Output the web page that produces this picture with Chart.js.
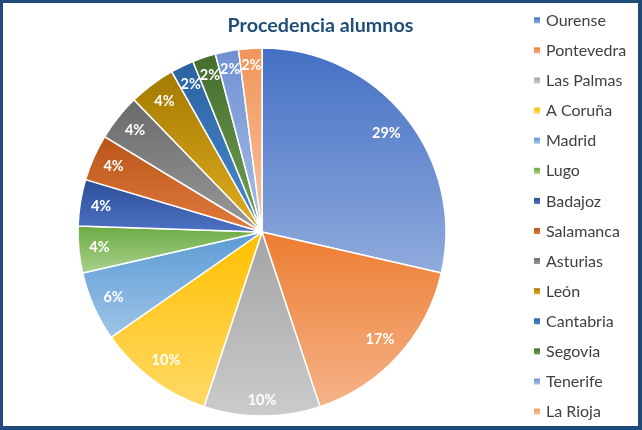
<!DOCTYPE html>
<html>
<head>
<meta charset="utf-8">
<script src="https://cdn.jsdelivr.net/npm/chart.js@4"></script>
<style>
  html, body { margin: 0; padding: 0; background: #ffffff; }
  #frame {
    box-sizing: border-box;
    width: 642px; height: 430px;
    border-style: solid;
    border-color: #1f4b7a;
    border-width: 3px 4px 4px 3px;
    background: #ffffff;
  }
  #wrap { position: relative; width: 635px; height: 423px; }
</style>
</head>
<body>
<div id="frame"><div id="wrap"><canvas id="c"></canvas></div></div>
<script>
const chartTitle = 'Procedencia alumnos';
const categories = ['Ourense','Pontevedra','Las Palmas','A Coruña','Madrid','Lugo','Badajoz','Salamanca','Asturias','León','Cantabria','Segovia','Tenerife','La Rioja'];
// number of students per province
const students = [14, 8, 5, 5, 3, 2, 2, 2, 2, 2, 1, 1, 1, 1];
// percentage labels as printed on the slices
const percentLabels = ['29%','17%','10%','10%','6%','4%','4%','4%','4%','4%','2%','2%','2%','2%'];
const topColors = ['#4470c4','#ed7d31','#a3a3a3','#ffc000','#5b9bd5','#6cab42','#2c4f98','#b9551a','#6a6a6a','#a37a00','#2a62a0','#456c2e','#6f90d2','#f0955a'];
const bottomColors = ['#90abdd','#f5b389','#cbcbcb','#ffd966','#9fc4e7','#a9d18e','#4e72c4','#e27c3c','#9a9a9a','#e2ae22','#4b8bd0','#72a252','#a8bfe9','#f8c4a0'];

const FONT = 'Lato, "Open Sans", sans-serif';
Chart.defaults.font.family = FONT;

function arcYRange(arc) {
  const s = arc.startAngle, e = arc.endAngle, r = arc.outerRadius;
  const ys = [arc.y, arc.y + r * Math.sin(s), arc.y + r * Math.sin(e)];
  [-Math.PI / 2, Math.PI / 2, 3 * Math.PI / 2].forEach(a => {
    if (a >= s && a <= e) ys.push(arc.y + r * Math.sin(a));
  });
  return [Math.min.apply(null, ys), Math.max.apply(null, ys)];
}

const gradientPlugin = {
  id: 'sliceGradient',
  beforeDatasetsDraw(chart) {
    const ctx = chart.ctx;
    const meta = chart.getDatasetMeta(0);
    meta.data.forEach((arc, i) => {
      const [y0, y1] = arcYRange(arc);
      const g = ctx.createLinearGradient(0, y0, 0, y1 > y0 ? y1 : y0 + 1);
      g.addColorStop(0, topColors[i]);
      g.addColorStop(1, bottomColors[i]);
      arc.options.backgroundColor = g;
    });
  }
};

const labelPlugin = {
  id: 'sliceLabels',
  afterDatasetsDraw(chart) {
    const ctx = chart.ctx;
    const meta = chart.getDatasetMeta(0);
    ctx.save();
    ctx.font = 'bold 14.5px ' + FONT;
    ctx.fillStyle = '#ffffff';
    ctx.textAlign = 'center';
    ctx.textBaseline = 'middle';
    meta.data.forEach((arc, i) => {
      const text = percentLabels[i];
      const w = ctx.measureText(text).width;
      const h = 12;
      const mid = (arc.startAngle + arc.endAngle) / 2;
      const ux = Math.cos(mid), uy = Math.sin(mid);
      const rr = arc.outerRadius - 10 - (Math.abs(ux) * w / 2 + Math.abs(uy) * h / 2);
      ctx.fillText(text, arc.x + rr * ux, arc.y + rr * uy);
    });
    ctx.restore();
  }
};

const titlePlugin = {
  id: 'topTitle',
  afterDraw(chart) {
    const ctx = chart.ctx;
    ctx.save();
    ctx.font = 'bold 19.7px ' + FONT;
    ctx.fillStyle = '#1f4e79';
    ctx.textAlign = 'center';
    ctx.textBaseline = 'alphabetic';
    ctx.fillText(chartTitle, chart.width / 2, 28.5);
    ctx.restore();
  }
};

const legendPlugin = {
  id: 'sideLegend',
  afterDraw(chart) {
    const ctx = chart.ctx;
    ctx.save();
    ctx.font = '16px ' + FONT;
    ctx.textAlign = 'left';
    ctx.textBaseline = 'middle';
    chart.data.labels.forEach((lab, i) => {
      const y = 17.3 + i * 30.1;
      const g = ctx.createLinearGradient(0, y - 3, 0, y + 3);
      g.addColorStop(0, topColors[i]);
      g.addColorStop(1, bottomColors[i]);
      ctx.fillStyle = g;
      ctx.fillRect(531, y - 3, 6, 6);
      ctx.fillStyle = '#404040';
      ctx.fillText(lab, 543, y + 0.5);
    });
    ctx.restore();
  }
};

new Chart(document.getElementById('c'), {
  type: 'pie',
  data: {
    labels: categories,
    datasets: [{
      data: students,
      backgroundColor: (c) => topColors[c.dataIndex],
      borderColor: '#ffffff',
      borderWidth: 1.5,
      hoverOffset: 0,
      offset: 0
    }]
  },
  options: {
    responsive: true,
    maintainAspectRatio: false,
    animation: false,
    radius: 184,
    layout: { padding: { left: 0, right: 117, top: 45, bottom: 10 } },
    plugins: {
      legend: { display: false },
      tooltip: { enabled: false },
      title: { display: false }
    }
  },
  plugins: [gradientPlugin, labelPlugin, titlePlugin, legendPlugin]
});
</script>
</body>
</html>
